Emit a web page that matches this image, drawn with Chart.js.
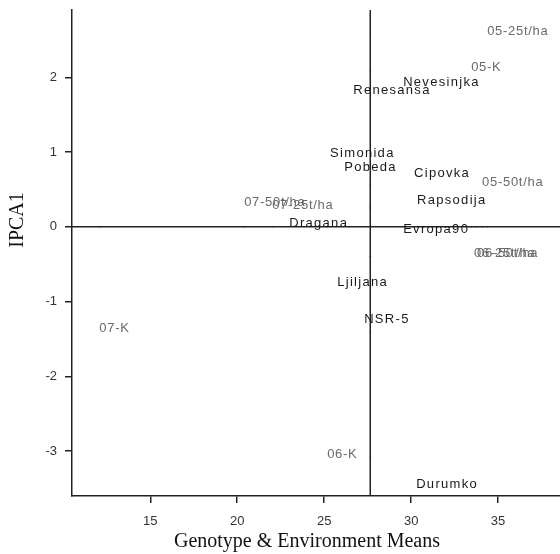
<!DOCTYPE html>
<html>
<head>
<meta charset="utf-8">
<script src="https://cdn.jsdelivr.net/npm/chart.js@4/dist/chart.umd.min.js"></script>
<style>
	html, body { margin: 0; padding: 0; background: #fff; overflow: hidden; }
	#wrap { width: 560px; height: 554px; overflow: hidden; }
</style>
</head>
<body>
<!-- canvas is a few px wider than the page so the plot runs off the right edge like the original -->
<div id="wrap"><canvas id="biplot" width="564" height="554"></canvas></div>
<script>
// genotypes (black labels)
const genotypes = ['Renesansa', 'Nevesinjka', 'Simonida', 'Pobeda', 'Cipovka', 'Rapsodija',
	'Dragana', 'Evropa90', 'Ljiljana', 'NSR-5', 'Durumko'];
const genotypeMeans = [26.67, 29.54, 25.34, 26.15, 30.17, 30.34, 22.99, 29.54, 25.75, 27.30, 30.29];
const genotypeIpca = [1.79, 1.89, 0.94, 0.75, 0.67, 0.31, 0.00, -0.08, -0.78, -1.28, -3.49];

// environments (grey labels)
const environments = ['05-25t/ha', '05-K', '05-50t/ha', '07-50t/ha', '07-25t/ha',
	'06-25t/ha', '06-50t/ha', '07-K', '06-K'];
const environmentMeans = [34.37, 33.45, 34.08, 20.40, 22.01, 33.62, 33.79, 12.07, 25.17];
const environmentIpca = [2.58, 2.09, 0.56, 0.29, 0.25, -0.39, -0.40, -1.40, -3.09];

const grandMean = 27.65;
const xTicks = [15, 20, 25, 30, 35];
const yTicks = [-3, -2, -1, 0, 1, 2];
const xRange = [10.5, 38.56];
const yRange = [-3.6, 2.9];
const xTitle = 'Genotype & Environment Means';
const yTitle = 'IPCA1';

const pointLabels = {
	id: 'pointLabels',
	afterDatasetsDraw(chart) {
		const ctx = chart.ctx;
		chart.data.datasets.forEach((ds, i) => {
			if (!ds.labels) return;
			const meta = chart.getDatasetMeta(i);
			ctx.save();
			ctx.font = ds.labelFont;
			ctx.fillStyle = ds.labelColor;
			ctx.letterSpacing = ds.labelSpacing;
			ctx.textAlign = 'left';
			ctx.textBaseline = 'middle';
			meta.data.forEach((pt, j) => ctx.fillText(ds.labels[j], pt.x, pt.y - 3));
			ctx.restore();
		});
	}
};

// axis titles sit a little off-centre in the original, so draw them here
const axisTitles = {
	id: 'axisTitles',
	afterDraw(chart) {
		const ctx = chart.ctx;
		const area = chart.chartArea;
		ctx.save();
		ctx.font = '20px "Liberation Serif", "Times New Roman", serif';
		ctx.fillStyle = '#111';
		ctx.textAlign = 'center';
		ctx.textBaseline = 'middle';
		ctx.fillText(xTitle, (area.left + area.right) / 2 - 9, area.bottom + 46);
		ctx.translate(18, (area.top + area.bottom) / 2 - 33);
		ctx.rotate(-Math.PI / 2);
		ctx.fillText(yTitle, 0, 0);
		ctx.restore();
	}
};

const noPad = s => { s.paddingTop = 0; s.paddingBottom = 0; s.paddingLeft = 0; s.paddingRight = 0; };

const projections = environmentMeans.map(m => ({ x: m, y: 0 }))
	.concat(environmentIpca.map(v => ({ x: grandMean, y: v })));

new Chart(document.getElementById('biplot'), {
	type: 'scatter',
	plugins: [pointLabels, axisTitles],
	data: {
		datasets: [{
			data: [{ x: grandMean, y: yRange[0] }, { x: grandMean, y: yRange[1] }],
			showLine: true,
			borderColor: '#222',
			borderWidth: 1.5,
			pointRadius: 0,
		}, {
			data: [{ x: xRange[0], y: 0 }, { x: xRange[1], y: 0 }],
			showLine: true,
			borderColor: '#222',
			borderWidth: 1.5,
			pointRadius: 0,
		}, {
			data: projections,
			pointRadius: 0.8,
			borderWidth: 0,
			backgroundColor: '#666',
		}, {
			data: genotypeMeans.map((m, i) => ({ x: m, y: genotypeIpca[i] })),
			pointRadius: 0,
			labels: genotypes,
			labelFont: '13px "Liberation Sans", Arial, sans-serif',
			labelColor: '#1a1a1a',
			labelSpacing: '1.3px',
		}, {
			data: environmentMeans.map((m, i) => ({ x: m, y: environmentIpca[i] })),
			pointRadius: 0,
			labels: environments,
			labelFont: '13px "Liberation Sans", Arial, sans-serif',
			labelColor: '#6a6a6a',
			labelSpacing: '0.7px',
		}]
	},
	options: {
		responsive: false,
		devicePixelRatio: 1,
		animation: false,
		layout: { padding: { top: 10, right: 0, bottom: 0, left: 0 } },
		plugins: {
			legend: { display: false },
			tooltip: { enabled: false },
		},
		scales: {
			x: {
				type: 'linear',
				min: xRange[0],
				max: xRange[1],
				afterBuildTicks: s => { s.ticks = xTicks.map(v => ({ value: v })); },
				afterFit: s => { s.height = 58; noPad(s); },
				grid: { drawOnChartArea: false, drawTicks: true, tickLength: 7, color: '#222', lineWidth: 1.5 },
				border: { display: true, color: '#222', width: 1.5 },
				ticks: { color: '#333', padding: 11, font: { family: 'Liberation Sans', size: 13 } },
			},
			y: {
				type: 'linear',
				min: yRange[0],
				max: yRange[1],
				afterBuildTicks: s => { s.ticks = yTicks.map(v => ({ value: v })); },
				afterFit: s => { s.width = 72; noPad(s); },
				grid: { drawOnChartArea: false, drawTicks: true, tickLength: 7, color: '#222', lineWidth: 1.5 },
				border: { display: true, color: '#222', width: 1.5 },
				ticks: { color: '#333', padding: 8, font: { family: 'Liberation Sans', size: 13 } },
			},
		},
	},
});
</script>
</body>
</html>
